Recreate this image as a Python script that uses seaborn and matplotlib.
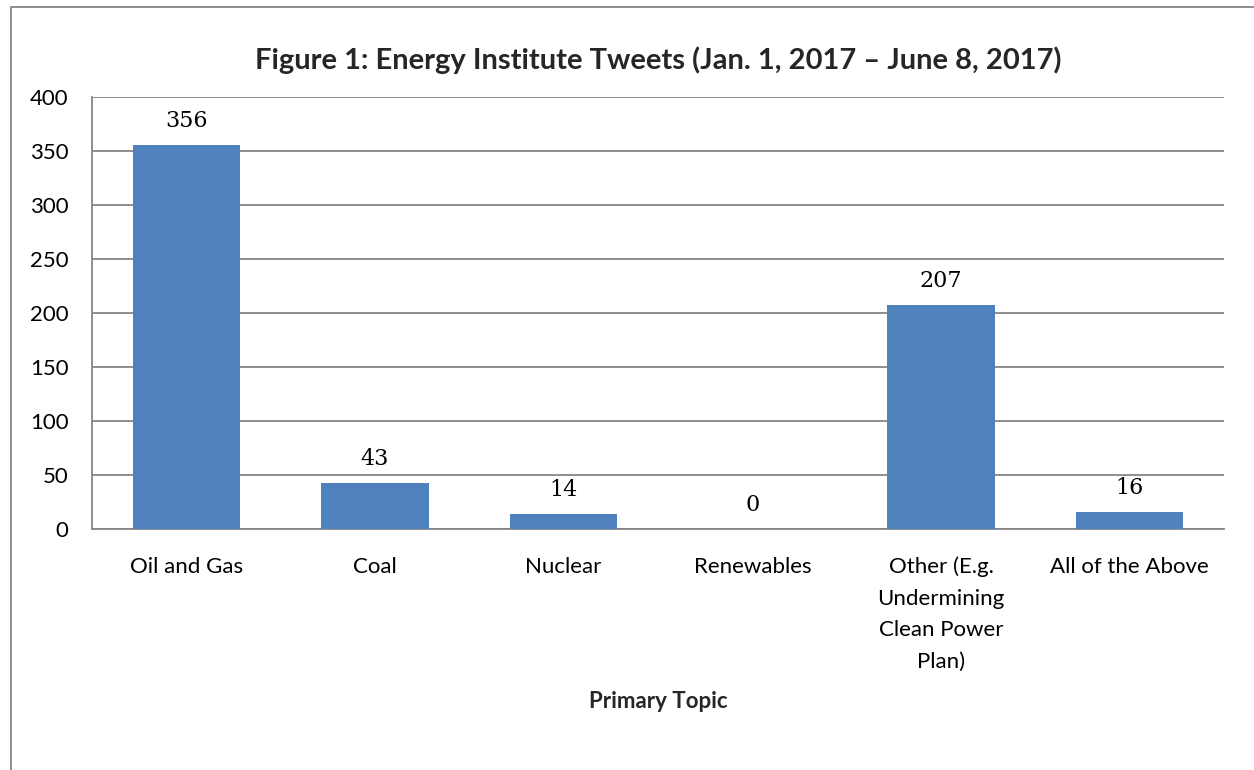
import matplotlib
matplotlib.use("Agg")
import matplotlib.pyplot as plt
import seaborn as sns
import pandas as pd
from matplotlib.patches import Rectangle

categories = ["Oil and Gas", "Coal", "Nuclear", "Renewables",
              "Other (E.g.\nUndermining\nClean Power\nPlan)", "All of the Above"]
values = [356, 43, 14, 0, 207, 16]
yticks = [0, 50, 100, 150, 200, 250, 300, 350, 400]
title = "Figure 1: Energy Institute Tweets (Jan. 1, 2017 \u2013 June 8, 2017)"
xlabel = "Primary Topic"

sns.set_theme(style="white")
plt.rcParams['font.family'] = ['Lato', 'DejaVu Sans']

df = pd.DataFrame({"topic": categories, "count": values})

fig = plt.figure(figsize=(12.54, 7.7), dpi=100)
ax = fig.add_axes([92/1254, 1-529/770, (1224-92)/1254, (529-97)/770])

sns.barplot(data=df, x="topic", y="count", color="#4F81BD", width=0.57,
            saturation=1, ax=ax, zorder=3, linewidth=0, edgecolor="none")

ax.set_ylim(0, 400)
ax.set_yticks(yticks)
ax.yaxis.grid(True, color="#868686", linewidth=1.3, zorder=0)
ax.set_axisbelow(True)
for s in ["top", "right"]:
    ax.spines[s].set_visible(False)
ax.spines["left"].set_color("#868686")
ax.spines["left"].set_linewidth(1.3)
ax.spines["bottom"].set_color("#868686")
ax.spines["bottom"].set_linewidth(1.3)
ax.tick_params(axis="both", labelsize=16, colors="black", length=0)
ax.tick_params(axis="x", pad=20)
ax.tick_params(axis="y", pad=17)
for lbl in ax.get_xticklabels():
    lbl.set_linespacing(1.72)
ax.set_ylabel("")
ax.set_xlabel(xlabel, fontsize=16, fontweight="bold", labelpad=14)

for i, v in enumerate(values):
    ax.text(i, v + 12, str(v), ha="center", va="bottom", fontsize=16,
            family="DejaVu Serif", color="black")

fig.text(658/1254, 1-60/770, title, ha="center", va="center",
         fontsize=21, fontweight="bold")

fig.patches.append(Rectangle((11/1254, -0.1), 1.2, 1-7/770+0.1,
                             transform=fig.transFigure, fill=False,
                             edgecolor="#868686", linewidth=1.3))

fig.savefig("out.png", dpi=100)
